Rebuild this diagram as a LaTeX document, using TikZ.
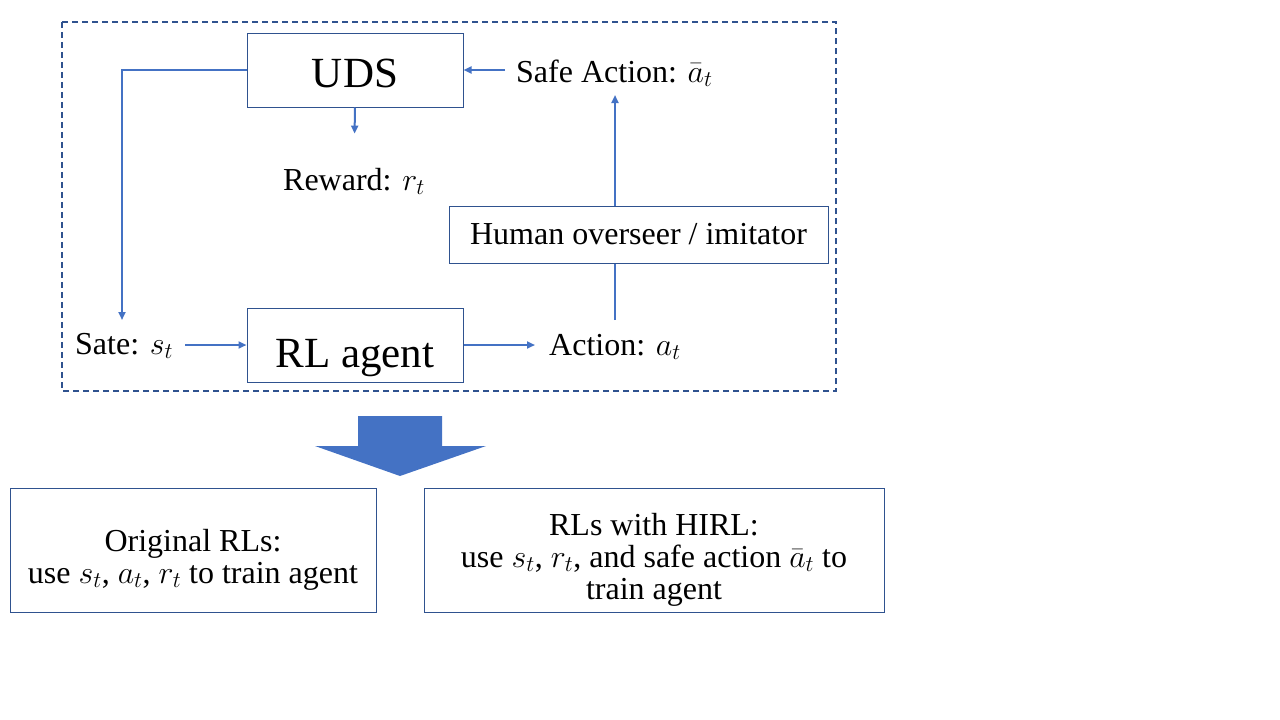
\RequirePackage{fix-cm}
\documentclass[tikz,border=0pt]{standalone}
\usepackage{fontspec}
\setmainfont{Liberation Serif}
\usepackage{tikz}
\usetikzlibrary{positioning,arrows.meta}
\definecolor{lineblue}{HTML}{4472C4}
\definecolor{boxblue}{HTML}{2F528F}

\begin{document}
\begin{tikzpicture}[x=1pt,y=-1pt,
box/.style={draw=boxblue, line width=1pt, inner sep=0, minimum width=216pt, minimum height=74pt, text depth=0pt, font=\fontsize{43}{50}\selectfont},
lbl/.style={inner sep=0, font=\fontsize{32}{32}\selectfont},
panel/.style={draw=boxblue, line width=1pt, inner sep=0, align=center, minimum height=124pt, font=\fontsize{32}{32}\selectfont},
flow/.style={draw=lineblue, line width=2pt, ->, >={Triangle[length=8pt,width=7pt]}},
link/.style={draw=lineblue, line width=2pt}
]
\useasboundingbox (0,0) rectangle (1280,720);
\draw[boxblue, line width=1.5pt, dash pattern=on 6pt off 4pt] (62,22) rectangle (836,391);

\node[box, text height=34pt] (uds) at (355,70) {UDS};
\node[box, text height=44pt] (agent) at (355,345) {RL agent};
\node[panel, minimum width=379pt, minimum height=57pt] (human) at (638.5,234.5) {Human overseer / imitator};
\node[lbl, anchor=base west] (safe) at (516,82) {Safe Action: $\bar{a}_t$};
\node[lbl, anchor=base] (reward) at (354,190) {Reward: $r_t$};
\node[lbl, anchor=base west] (state) at (75,354) {Sate: $s_t$};
\node[lbl, anchor=base west] (action) at (549,355) {Action: $a_t$};

\coordinate (loop) at (122,320);
\coordinate (tap) at (615,320);
\draw[flow] (uds.west) -| (loop);
\draw[flow, shorten >=34pt] (uds.south) -- (reward.north);
\draw[flow, shorten <=11pt] (safe.west |- uds.east) -- (uds.east);
\draw[flow, shorten <=12pt] (state.east |- agent.west) -- (agent.west);
\draw[flow, shorten >=14pt] (agent.east) -- (agent.east -| action.west);
\draw[link] (tap) -- (tap |- human.south);
\draw[flow, shorten >=8pt] (tap |- human.north) -- (tap |- safe.south);

% big down arrow
\fill[lineblue] (358,416) -- (442,416) -- (442,446) -- (486,446) -- (400,476) -- (315,446) -- (358,446) -- cycle;

\node[panel, minimum width=366pt] (orig) at (193,550)
  {\rule{0pt}{41pt}Original RLs:\\ use $s_t$, $a_t$, $r_t$ to train agent};
\node[panel, minimum width=460pt] (hirl) at (654,550)
  {\rule{0pt}{41pt}RLs with HIRL:\\ use $s_t$, $r_t$, and safe action $\bar{a}_t$ to\\ train agent};
\end{tikzpicture}
\end{document}
